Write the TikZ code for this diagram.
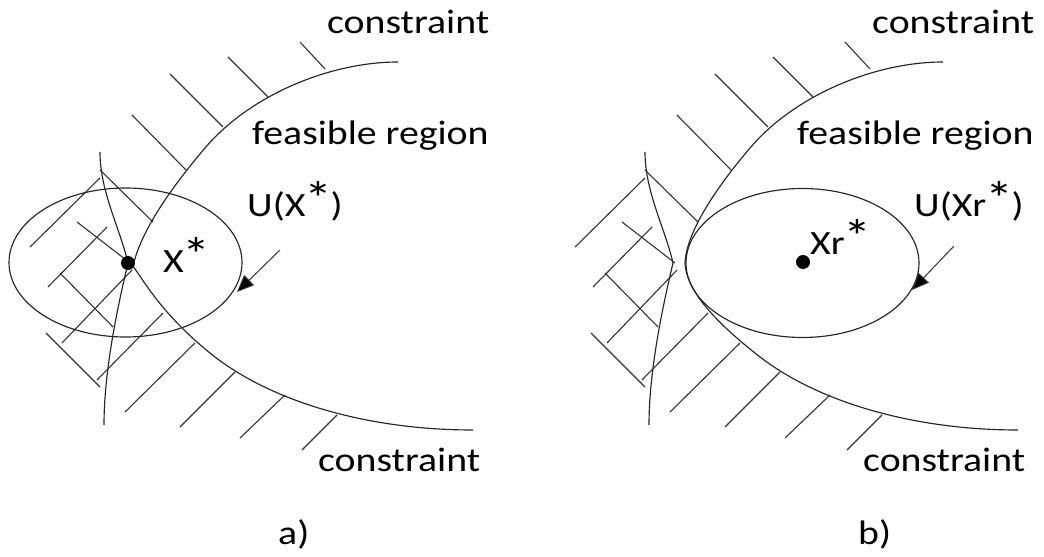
\documentclass[tikz,border=0pt]{standalone}
\usepackage{fontspec}
\setmainfont{Carlito}
\usetikzlibrary{arrows.meta,shapes.geometric}
\newcommand\myast{{\kern-0.03em\raisebox{0.03em}{\fontsize{48bp}{48bp}\selectfont *}\kern-0.04em}}
\begin{document}
\begin{tikzpicture}[x=1bp,y=-1bp,
  curve/.style={line width=1.15bp,black!85},
  hatch/.style={line width=1.1bp,black!80},
  lbl/.style={anchor=base west,inner sep=0pt,font=\fontsize{34bp}{40bp}\selectfont,text=black,xscale=1.17,transform shape},
  region/.style={draw=black!85,line width=1.15bp,ellipse,inner sep=0pt,minimum width=233bp,minimum height=149bp},
  dotmark/.style={circle,fill=black,inner sep=0pt,minimum size=14bp},
  pointer/.style={line width=1bp,black!80,-{Triangle[length=17bp,width=14bp,fill=black]}}]
\path[use as bounding box] (0,0) rectangle (1044,557);
\foreach \dx/\p/\vx/\vy/\ix/\iy/\ox/\oy in {0/a/133/266/140/235/145/283, 545/b/140/263/141/236/141/288}{
 \begin{scope}[xshift=\dx bp]
   % hatching, upper ticks
   \draw[hatch] (300,42)--(325,69) (228,57)--(268,97) (170,74)--(223,127)
     (132,115)--(186,170) (100,170)--(153,222) (77,222)--(130,263)
     (60,273)--(113,327) (46,333)--(100,387);
   % hatching, lower ticks
   \draw[hatch] (30,247)--(100,178) (48,287)--(107,227) (62,343)--(132,270)
     (97,380)--(163,313) (125,412)--(195,343) (180,427)--(235,372)
     (240,438)--(285,395) (302,450)--(337,415);
   % main constraint curve
   \draw[curve] (398,62) .. controls (330,62) and (250,95) .. (205,148)
     .. controls (165,195) and (\ix,\iy) .. (\vx,\vy)
     .. controls (\ox,\oy) and (165,318) .. (215,357)
     .. controls (275,403) and (370,430) .. (473,430);
   % second constraint arc
   \draw[curve] (100,152) .. controls (100,192) and (120,228) .. (128,263)
     .. controls (118,305) and (104,370) .. (104,425);
   \node[lbl] (ctop\p) at (327,34) {constraint};
   \node[lbl] (feas\p) at (252,145) {feasible region};
   \node[lbl] (cbot\p) at (318,471) {constraint};
 \end{scope}
}
% panel a
\node[region] (Ua) at (125.5,262.5) {};
\node[dotmark] (xa) at (128,263) {};
\node[lbl] (lxa) at (163,273) {X\myast};
\node[lbl] (lUa) at (247,217) {U(X\myast)};
\coordinate (pa0) at (280,250);
\coordinate (pa1) at (237,292);
\draw[pointer] (pa0) -- (pa1);
\node[lbl] (capa) at (278,544) {a)};
% panel b
\node[region] (Ub) at (802.5,263) {};
\node[dotmark] (xb) at (803,262) {};
\node[lbl] (lxb) at (810,255) {Xr\myast};
\node[lbl] (lUb) at (914,217) {U(Xr\myast)};
\coordinate (pb0) at (954,246);
\coordinate (pb1) at (912,290);
\draw[pointer] (pb0) -- (pb1);
\node[lbl] (capb) at (858,544) {b)};
\end{tikzpicture}
\end{document}
